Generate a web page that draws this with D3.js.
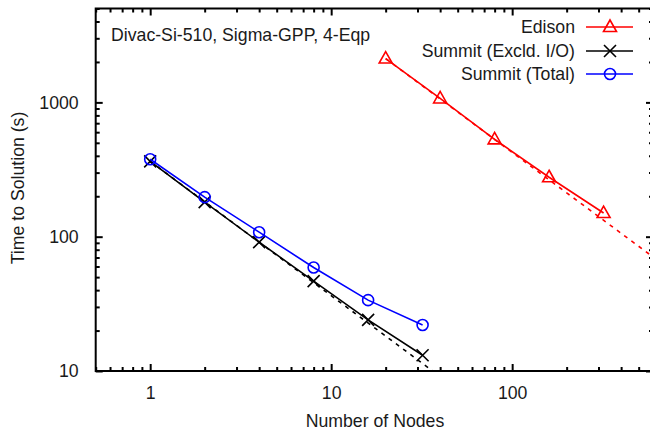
<!DOCTYPE html>
<html><head><meta charset="utf-8">
<script src="https://cdn.jsdelivr.net/npm/d3@7"></script>
<style>body{margin:0;background:#fff} svg{display:block} text{font-family:"Liberation Sans",Arial,sans-serif}</style>
</head><body><svg id="c" width="650" height="431"></svg>
<script>
// ---- data ----
const nodesEdison = [20, 40, 80, 160, 320];
const timeEdison = [2120, 1070, 530, 277, 150];
const nodesSummit = [1, 2, 4, 8, 16, 32];
const timeSummitExcl = [364, 181, 91, 46.7, 24, 13.1];
const timeSummitTotal = [377, 197, 108, 59, 33.7, 22];
const idealSummitNodes = [1, 40];
const idealSummitTime = [364, 9.1];
const idealEdisonNodes = [20, 600];
const idealEdisonTime = [2120, 70.7];
const xTickValues = [1, 10, 100];
const yTickValues = [10, 100, 1000];
const legendLabels = ["Edison", "Summit (Excld. I/O)", "Summit (Total)"];
const annotation = "Divac-Si-510, Sigma-GPP, 4-Eqp";
const xLabel = "Number of Nodes";
const yLabel = "Time to Solution (s)";

// ---- layout ----
const L = 95.7, R = 653, T = 8.5, B = 371;
const FS = 17.7;
const svg = d3.select("#c");
const x = d3.scaleLog().domain([0.5, 600]).range([L, R]);
const y = d3.scaleLog().domain([10, 5000]).range([B, T]);

function minorTicks(dom) {
  const out = [];
  const lo = Math.floor(Math.log10(dom[0])), hi = Math.ceil(Math.log10(dom[1]));
  for (let k = lo; k <= hi; k++) for (let m = 2; m <= 9; m++) {
    const v = m * Math.pow(10, k);
    if (v >= dom[0] && v <= dom[1]) out.push(v);
  }
  return out;
}
const xMinor = minorTicks(x.domain()), yMinor = minorTicks(y.domain());

function styleAxis(g, showLabels) {
  g.select(".domain").remove();
  g.selectAll(".tick line").attr("stroke", "#000").attr("stroke-width", 2);
  if (!showLabels) g.selectAll(".tick text").remove();
  else g.selectAll(".tick text").attr("font-size", FS).attr("fill", "#1a1a1a");
}
// bottom
svg.append("g").attr("transform", `translate(0,${B})`)
  .call(d3.axisBottom(x).tickValues(xTickValues).tickFormat(d3.format("d")).tickSizeInner(-7).tickSizeOuter(0).tickPadding(15))
  .call(g => styleAxis(g, true));
svg.append("g").attr("transform", `translate(0,${B})`)
  .call(d3.axisBottom(x).tickValues(xMinor).tickSizeInner(-4).tickSizeOuter(0))
  .call(g => styleAxis(g, false));
// top
svg.append("g").attr("transform", `translate(0,${T})`)
  .call(d3.axisTop(x).tickValues(xTickValues).tickSizeInner(-7).tickSizeOuter(0))
  .call(g => styleAxis(g, false));
svg.append("g").attr("transform", `translate(0,${T})`)
  .call(d3.axisTop(x).tickValues(xMinor).tickSizeInner(-4).tickSizeOuter(0))
  .call(g => styleAxis(g, false));
// left
svg.append("g").attr("transform", `translate(${L},0)`)
  .call(d3.axisLeft(y).tickValues(yTickValues).tickFormat(d3.format("d")).tickSizeInner(-7).tickSizeOuter(0).tickPadding(17))
  .call(g => styleAxis(g, true));
svg.append("g").attr("transform", `translate(${L},0)`)
  .call(d3.axisLeft(y).tickValues(yMinor).tickSizeInner(-4).tickSizeOuter(0))
  .call(g => styleAxis(g, false));
// right
svg.append("g").attr("transform", `translate(${R},0)`)
  .call(d3.axisRight(y).tickValues(yTickValues).tickSizeInner(-7).tickSizeOuter(0))
  .call(g => styleAxis(g, false));
svg.append("g").attr("transform", `translate(${R},0)`)
  .call(d3.axisRight(y).tickValues(yMinor).tickSizeInner(-4).tickSizeOuter(0))
  .call(g => styleAxis(g, false));

// border
svg.append("rect").attr("x", L).attr("y", T).attr("width", R - L).attr("height", B - T)
  .attr("fill", "none").attr("stroke", "#000").attr("stroke-width", 2);

// clip
svg.append("clipPath").attr("id", "clip").append("rect")
  .attr("x", L).attr("y", T).attr("width", R - L).attr("height", B - T);
const plot = svg.append("g").attr("clip-path", "url(#clip)");

const line = d3.line().x(d => x(d[0])).y(d => y(d[1]));
const zip = (a, b) => a.map((v, i) => [v, b[i]]);

// ideal scaling (dashed)
plot.append("path").datum(zip(idealSummitNodes, idealSummitTime)).attr("d", line)
  .attr("fill", "none").attr("stroke", "#000").attr("stroke-width", 1.6).attr("stroke-dasharray", "4,5");
plot.append("path").datum(zip(idealEdisonNodes, idealEdisonTime)).attr("d", line)
  .attr("fill", "none").attr("stroke", "#ff0000").attr("stroke-width", 1.6).attr("stroke-dasharray", "4,5");

const series = [
  { name: legendLabels[0], xs: nodesEdison, ys: timeEdison, color: "#ff0000", marker: "tri" },
  { name: legendLabels[1], xs: nodesSummit, ys: timeSummitExcl, color: "#000000", marker: "x" },
  { name: legendLabels[2], xs: nodesSummit, ys: timeSummitTotal, color: "#0000ff", marker: "circ" }
];

function drawMarker(g, type, cx, cy, color) {
  if (type === "tri") {
    g.append("path").attr("d", `M${cx},${cy - 7}L${cx + 6.5},${cy + 4.5}L${cx - 6.5},${cy + 4.5}Z`)
      .attr("fill", "none").attr("stroke", color).attr("stroke-width", 1.6);
  } else if (type === "x") {
    g.append("path").attr("d", `M${cx - 6},${cy - 6}L${cx + 6},${cy + 6}M${cx - 6},${cy + 6}L${cx + 6},${cy - 6}`)
      .attr("fill", "none").attr("stroke", color).attr("stroke-width", 1.6);
  } else {
    g.append("circle").attr("cx", cx).attr("cy", cy).attr("r", 5.5)
      .attr("fill", "none").attr("stroke", color).attr("stroke-width", 1.6);
  }
}

series.forEach(s => {
  const pts = zip(s.xs, s.ys);
  plot.append("path").datum(pts).attr("d", line)
    .attr("fill", "none").attr("stroke", s.color).attr("stroke-width", 1.6);
  pts.forEach(p => drawMarker(plot, s.marker, x(p[0]), y(p[1]), s.color));
});

// legend
const legY = [27, 51, 74];
series.forEach((s, i) => {
  svg.append("text").attr("x", 575).attr("y", legY[i]).attr("dy", "0.35em")
    .attr("text-anchor", "end").attr("font-size", FS).attr("fill", "#1a1a1a").text(s.name);
  svg.append("line").attr("x1", 586).attr("x2", 633).attr("y1", legY[i]).attr("y2", legY[i])
    .attr("stroke", s.color).attr("stroke-width", 1.6);
  drawMarker(svg, s.marker, 610, legY[i], s.color);
});

// annotation
svg.append("text").attr("x", 111).attr("y", 35).attr("dy", "0.35em")
  .attr("font-size", FS).attr("fill", "#1a1a1a").text(annotation);

// axis labels
svg.append("text").attr("x", 375).attr("y", 421).attr("dy", "0.35em").attr("text-anchor", "middle")
  .attr("font-size", FS).attr("fill", "#1a1a1a").text(xLabel);
svg.append("text").attr("transform", "translate(18,188) rotate(-90)").attr("dy", "0.35em")
  .attr("text-anchor", "middle").attr("font-size", FS).attr("fill", "#1a1a1a").text(yLabel);
</script></body></html>
